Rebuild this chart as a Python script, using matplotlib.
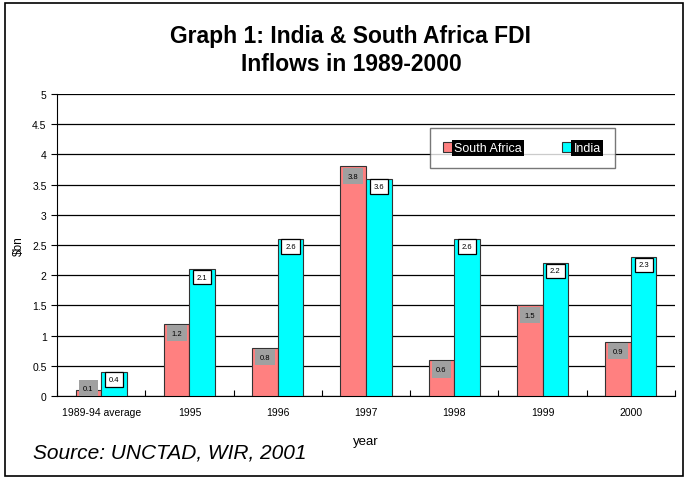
import matplotlib.pyplot as plt
import matplotlib.patches as mpatches
import numpy as np

plt.rcParams['font.family'] = ['Liberation Sans', 'DejaVu Sans']

# data ($bn)
years = ['1989-94 average', '1995', '1996', '1997', '1998', '1999', '2000']
south_africa = [0.1, 1.2, 0.8, 3.8, 0.6, 1.5, 0.9]
india = [0.4, 2.1, 2.6, 3.6, 2.6, 2.2, 2.3]

W, H = 687, 481
fig = plt.figure(figsize=(W / 100, H / 100), dpi=100)
ax = fig.add_axes([57 / W, (H - 397) / H, 618 / W, 302 / H])

x = np.arange(len(years))
bw = 0.29
sa_bars = ax.bar(x - bw / 2, south_africa, bw, color='#ff8080', edgecolor='#333333', linewidth=0.8, zorder=3)
in_bars = ax.bar(x + bw / 2, india, bw, color='#00ffff', edgecolor='#333333', linewidth=0.8, zorder=3)

# value labels
for b, v in zip(sa_bars, south_africa):
    ax.text(b.get_x() + b.get_width() / 2, max(v - 0.16, 0.13), f'{v}', ha='center', va='center',
            fontsize=5.5, zorder=4,
            bbox=dict(boxstyle='square,pad=0.6', facecolor='#a0a0a0', edgecolor='none'))
for b, v in zip(in_bars, india):
    ax.text(b.get_x() + b.get_width() / 2, max(v - 0.15, 0.13) + 0.02, f'{v}', ha='center', va='center',
            fontsize=5.5, zorder=4,
            bbox=dict(boxstyle='square,pad=0.5', facecolor='white', edgecolor='black', linewidth=0.9))

ax.set_xlim(-0.5, len(years) - 0.5)
ax.set_ylim(0, 5)
ax.set_yticks(np.arange(0, 5.01, 0.5))
ax.set_yticklabels(['0', '0.5', '1', '1.5', '2', '2.5', '3', '3.5', '4', '4.5', '5'])
ax.set_xticks(x)
ax.set_xticklabels(years)
ax.set_xticks(np.arange(-0.5, len(years)), minor=True)
ax.tick_params(axis='x', which='major', length=0, labelsize=7.5, pad=8)
ax.tick_params(axis='x', which='minor', length=4, width=0.8, direction='in')
ax.tick_params(axis='y', labelsize=7.5, length=4, width=0.8, direction='out')
ax.yaxis.grid(True, color='black', linewidth=0.9, zorder=0)
for s in ['top', 'right']:
    ax.spines[s].set_visible(False)
ax.spines['left'].set_linewidth(0.8)
ax.spines['bottom'].set_linewidth(0.8)
ax.set_ylabel('$bn', fontsize=8.5, labelpad=5)
ax.set_xlabel('year', fontsize=9.5, labelpad=13)

# legend
leg = fig.legend([sa_bars, in_bars], ['South Africa', 'India'], loc='center',
                 bbox_to_anchor=(522 / W, (H - 149) / H), ncol=2,
                 prop={'size': 9},
                 frameon=True, fancybox=False, edgecolor='#555555', handlelength=0.8,
                 handleheight=0.8, handletextpad=0.1, columnspacing=3.2,
                 borderpad=1.1, borderaxespad=0)
leg.get_frame().set_linewidth(1.0)
for t in leg.get_texts():
    t.set_color('white')
    t.set_bbox(dict(facecolor='black', edgecolor='none', pad=1.5))

fig.text(351 / W, 1 - 37 / H, 'Graph 1: India & South Africa FDI', ha='center', va='center',
         fontsize=16.5, fontweight='bold')
fig.text(351 / W, 1 - 65 / H, 'Inflows in 1989-2000', ha='center', va='center',
         fontsize=16.5, fontweight='bold')
fig.text(33 / W, 1 - 453 / H, 'Source: UNCTAD, WIR, 2001', ha='left', va='center',
         fontsize=15, style='italic')

# outer border
fig.patches.append(mpatches.Rectangle((5 / W, 4 / H), 678 / W, 473 / H, transform=fig.transFigure,
                                      fill=False, edgecolor='black', linewidth=1.2))

fig.savefig('out.png', dpi=100)
